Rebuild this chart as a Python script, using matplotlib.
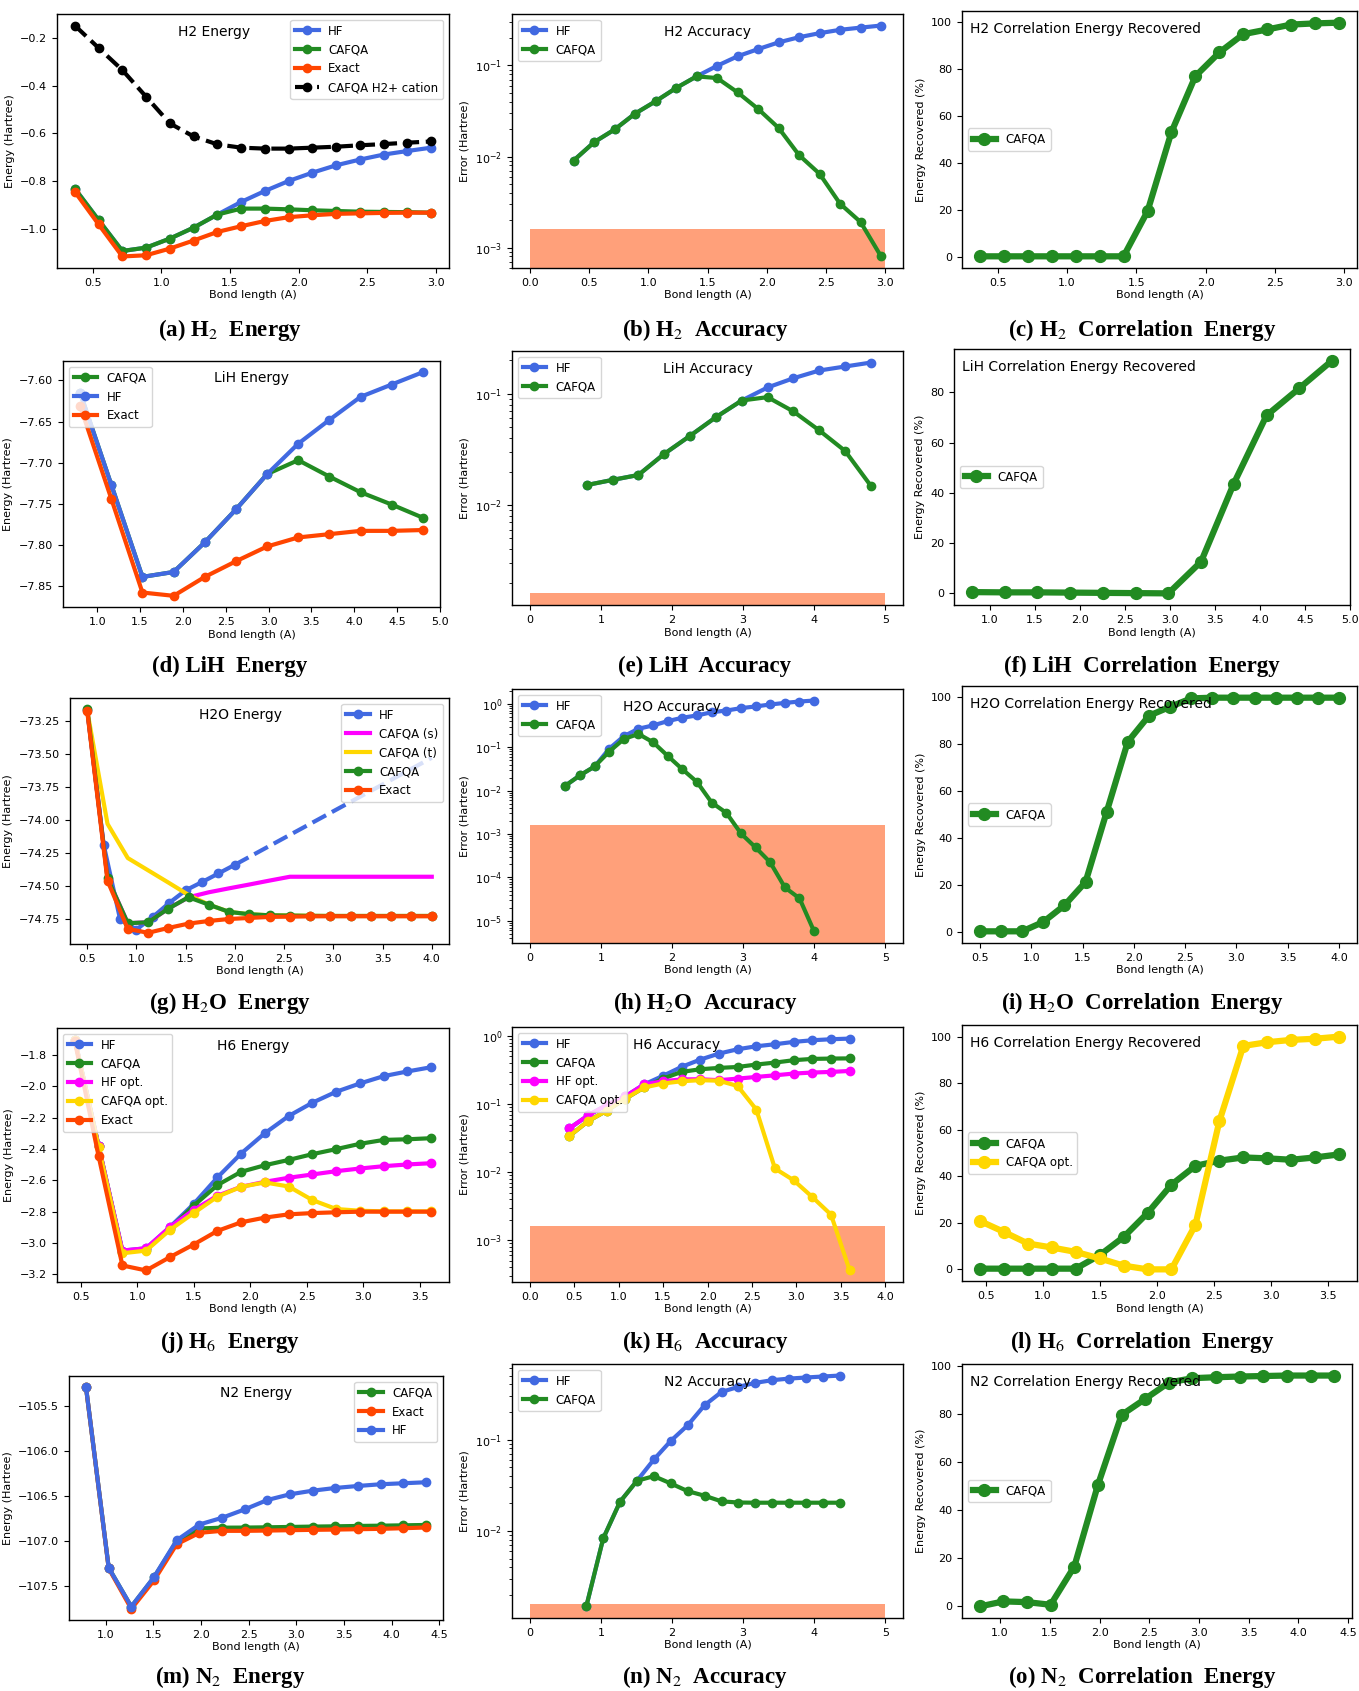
import matplotlib
matplotlib.use('Agg')
import matplotlib.pyplot as plt

plt.rcParams['font.family'] = ['DejaVu Sans']
plt.rcParams['mathtext.fontset'] = 'stix'
plt.rcParams['font.size'] = 8
plt.rcParams['axes.linewidth'] = 1.0

# ---------------- data ----------------
CHEM_ACC = 1.6e-3

# H2
h2_x = [0.37, 0.543, 0.716, 0.889, 1.062, 1.235, 1.408, 1.581, 1.754, 1.927, 2.10, 2.273, 2.446, 2.619, 2.792, 2.965]
h2_hf = [-0.832, -0.964, -1.094, -1.080, -1.042, -0.996, -0.941, -0.888, -0.842, -0.800, -0.765, -0.734, -0.710, -0.689, -0.674, -0.660]
h2_cafqa = [-0.832, -0.964, -1.094, -1.080, -1.042, -0.996, -0.941, -0.916, -0.916, -0.919, -0.923, -0.926, -0.929, -0.930, -0.931, -0.933]
h2_exact = [-0.845, -0.982, -1.117, -1.112, -1.084, -1.050, -1.014, -0.990, -0.968, -0.952, -0.944, -0.938, -0.936, -0.934, -0.933, -0.933]
h2_cation = [-0.147, -0.241, -0.334, -0.446, -0.558, -0.613, -0.646, -0.660, -0.664, -0.664, -0.660, -0.656, -0.650, -0.645, -0.639, -0.634]
h2_err_hf = [0.00904, 0.01436, 0.0198, 0.0296, 0.0404, 0.0565, 0.0758, 0.099, 0.126, 0.151, 0.179, 0.204, 0.226, 0.246, 0.26, 0.274]
h2_err_cafqa = [0.00904, 0.01436, 0.0198, 0.0296, 0.0404, 0.0565, 0.0758, 0.0727, 0.0506, 0.0333, 0.0206, 0.01035, 0.00646, 0.00303, 0.00191, 0.0008]
h2_corr = [0.3, 0.3, 0.3, 0.3, 0.3, 0.3, 0.3, 19.5, 53.3, 77.1, 87.2, 95.0, 97.0, 99.1, 99.6, 99.9]
h2_acc_span = [0.0, 3.0]

# LiH
lih_x = [0.8, 1.164, 1.527, 1.891, 2.255, 2.618, 2.982, 3.345, 3.709, 4.073, 4.436, 4.8]
lih_hf = [-7.615, -7.727, -7.839, -7.833, -7.797, -7.757, -7.714, -7.677, -7.648, -7.620, -7.605, -7.590]
lih_cafqa = [-7.615, -7.727, -7.839, -7.833, -7.797, -7.757, -7.714, -7.697, -7.717, -7.736, -7.751, -7.767]
lih_exact = [-7.631, -7.744, -7.858, -7.862, -7.839, -7.820, -7.802, -7.791, -7.787, -7.783, -7.783, -7.782]
lih_err_hf = [0.0151, 0.0168, 0.0186, 0.0288, 0.0419, 0.0616, 0.087, 0.114, 0.138, 0.162, 0.176, 0.191]
lih_err_cafqa = [0.0151, 0.0168, 0.0186, 0.0288, 0.0419, 0.0616, 0.087, 0.0933, 0.0693, 0.0468, 0.0306, 0.0148]
lih_corr = [0.5, 0.4, 0.4, 0.3, 0.2, 0.1, 0.0, 12.6, 43.7, 70.8, 81.6, 92.6]
lih_acc_span = [0.0, 5.0]

# H2O
h2o_x = [0.5, 0.706, 0.912, 1.118, 1.324, 1.529, 1.735, 1.941, 2.147, 2.353, 2.559, 2.765, 2.971, 3.176, 3.382, 3.588, 3.794, 4.0]
h2o_hf_x = [0.5, 0.667, 0.833, 1.0, 1.167, 1.333, 1.5, 1.667, 1.833, 2.0]
h2o_hf = [-73.167, -74.189, -74.752, -74.833, -74.737, -74.631, -74.535, -74.472, -74.407, -74.341]
h2o_hf_ext_x = [2.0, 4.0]
h2o_hf_ext = [-74.341, -73.528]
h2o_cafqa = [-73.159, -74.442, -74.785, -74.778, -74.674, -74.588, -74.644, -74.699, -74.717, -74.725, -74.727, -74.729, -74.730, -74.730, -74.730, -74.730, -74.730, -74.730]
h2o_cafqa_s = [-73.159, -74.442, -74.785, -74.778, -74.674, -74.588, -74.55, -74.52, -74.491, -74.461, -74.432, -74.432, -74.432, -74.432, -74.432, -74.432, -74.432, -74.432]
h2o_cafqa_t = [-73.17, -74.03, -74.29, -74.383, -74.476, -74.57, -74.644, -74.699, -74.717, -74.725, -74.727, -74.729, -74.730, -74.730, -74.730, -74.730, -74.730, -74.730]
h2o_exact = [-73.174, -74.462, -74.828, -74.858, -74.821, -74.788, -74.768, -74.753, -74.745, -74.737, -74.735, -74.733, -74.732, -74.732, -74.732, -74.732, -74.732, -74.732]
h2o_err_hf = [0.013, 0.0225, 0.036, 0.0925, 0.18, 0.267, 0.318, 0.40, 0.478, 0.54, 0.64, 0.70, 0.795, 0.87, 0.965, 1.05, 1.13, 1.19]
h2o_err_cafqa = [0.013, 0.0225, 0.036, 0.0795, 0.155, 0.202, 0.130, 0.063, 0.031, 0.0158, 0.0053, 0.00308, 0.00103, 0.000492, 0.000223, 0.000059, 0.000033, 0.0000057]
h2o_corr = [0.3, 0.3, 0.3, 4.3, 11.4, 21.3, 51.2, 81.1, 92.2, 96.0, 99.6, 99.9, 99.9, 99.9, 99.9, 99.9, 99.9, 99.9]
h2o_acc_span = [0.0, 5.0]

# H6
h6_x = [0.446, 0.656, 0.867, 1.077, 1.287, 1.498, 1.708, 1.918, 2.128, 2.339, 2.549, 2.759, 2.969, 3.18, 3.39, 3.6]
h6_hf = [-1.70, -2.38, -3.05, -3.035, -2.90, -2.752, -2.582, -2.429, -2.299, -2.189, -2.104, -2.034, -1.981, -1.934, -1.904, -1.877]
h6_cafqa = [-1.70, -2.38, -3.056, -3.043, -2.912, -2.763, -2.631, -2.546, -2.504, -2.47, -2.433, -2.401, -2.367, -2.342, -2.338, -2.331]
h6_hf_opt = [-1.70, -2.38, -3.05, -3.035, -2.90, -2.79, -2.699, -2.642, -2.61, -2.584, -2.563, -2.542, -2.525, -2.51, -2.499, -2.491]
h6_cafqa_opt = [-1.70, -2.385, -3.067, -3.05, -2.918, -2.81, -2.705, -2.642, -2.614, -2.64, -2.727, -2.784, -2.795, -2.799, -2.799, -2.799]
h6_exact = [-1.71, -2.444, -3.145, -3.177, -3.092, -3.011, -2.924, -2.869, -2.839, -2.818, -2.81, -2.805, -2.801, -2.801, -2.801, -2.801]
h6_err_hf = [0.044, 0.068, 0.097, 0.13, 0.194, 0.259, 0.351, 0.449, 0.55, 0.637, 0.705, 0.755, 0.817, 0.864, 0.894, 0.914]
h6_err_cafqa = [0.0339, 0.056, 0.08, 0.12, 0.175, 0.236, 0.296, 0.324, 0.339, 0.35, 0.38, 0.406, 0.44, 0.46, 0.465, 0.468]
h6_err_hf_opt = [0.044, 0.068, 0.097, 0.13, 0.194, 0.216, 0.23, 0.231, 0.224, 0.236, 0.25, 0.264, 0.28, 0.29, 0.296, 0.306]
h6_err_cafqa_opt = [0.0339, 0.056, 0.08, 0.12, 0.175, 0.2, 0.216, 0.224, 0.22, 0.184, 0.083, 0.0113, 0.0076, 0.0043, 0.00237, 0.00036]
h6_corr_cafqa = [0.3, 0.3, 0.3, 0.3, 0.3, 6.1, 13.9, 24.2, 36.4, 44.5, 46.7, 48.1, 47.7, 47.1, 48.1, 49.4]
h6_corr_cafqa_opt = [20.8, 16.1, 11.1, 9.4, 7.5, 4.7, 1.6, 0.0, 0.0, 19.2, 63.7, 96.0, 97.6, 98.6, 99.1, 100.0]
h6_acc_span = [0.0, 4.0]

# N2
n2_x = [0.795, 1.033, 1.270, 1.508, 1.746, 1.984, 2.221, 2.459, 2.697, 2.934, 3.172, 3.410, 3.647, 3.885, 4.123, 4.360]
n2_hf = [-105.296, -107.293, -107.722, -107.396, -106.989, -106.815, -106.741, -106.648, -106.544, -106.481, -106.441, -106.411, -106.389, -106.37, -106.359, -106.348]
n2_cafqa = [-105.296, -107.293, -107.724, -107.40, -107.00, -106.859, -106.850, -106.849, -106.846, -106.842, -106.838, -106.835, -106.831, -106.828, -106.824, -106.820]
n2_exact = [-105.298, -107.301, -107.748, -107.433, -107.033, -106.907, -106.885, -106.885, -106.882, -106.878, -106.874, -106.871, -106.867, -106.863, -106.856, -106.848]
n2_err_hf = [0.0015, 0.0083, 0.0209, 0.0354, 0.0605, 0.0967, 0.143, 0.237, 0.331, 0.376, 0.416, 0.445, 0.463, 0.476, 0.488, 0.50]
n2_err_cafqa = [0.0015, 0.0083, 0.0209, 0.0354, 0.0398, 0.0331, 0.0273, 0.0243, 0.0211, 0.0205, 0.0204, 0.0204, 0.0204, 0.0204, 0.0204, 0.0204]
n2_corr = [0.0, 2.1, 1.8, 0.7, 16.6, 50.6, 79.6, 86.3, 93.1, 94.9, 95.3, 95.6, 95.8, 96.0, 96.0, 96.0]
n2_acc_span = [0.0, 5.0]

captions = ["(a) H$_2$  Energy", "(b) H$_2$  Accuracy", "(c) H$_2$  Correlation  Energy",
            "(d) LiH  Energy", "(e) LiH  Accuracy", "(f) LiH  Correlation  Energy",
            "(g) H$_2$O  Energy", "(h) H$_2$O  Accuracy", "(i) H$_2$O  Correlation  Energy",
            "(j) H$_6$  Energy", "(k) H$_6$  Accuracy", "(l) H$_6$  Correlation  Energy",
            "(m) N$_2$  Energy", "(n) N$_2$  Accuracy", "(o) N$_2$  Correlation  Energy"]

# ---------------- style ----------------
BLUE, GREEN, RED, GOLD, MAG = 'royalblue', 'forestgreen', 'orangered', 'gold', 'magenta'
SALMON = 'lightsalmon'
LW, MS = 3.0, 6
LWC, MSC = 4.5, 8.5

W, H = 1359, 1691
fig = plt.figure(figsize=(W / 100, H / 100), dpi=100)


def add_ax(l, t, r, b):
    return fig.add_axes([l / W, 1 - b / H, (r - l) / W, (b - t) / H])


def finish(ax, ylabel, title, tx, ha, loc):
    ax.set_xlabel('Bond length (A)', fontsize=8, labelpad=2)
    ax.set_ylabel(ylabel, fontsize=8)
    ax.tick_params(labelsize=8)
    ax.text(tx, 0.93, title, transform=ax.transAxes, ha=ha, va='center', fontsize=10)
    ax.legend(loc=loc, fontsize=8.5)


def energy(ax, series, title, tx, loc):
    for x, y, c, lab, kw in series:
        ax.plot(x, y, color=c, lw=LW, label=lab, **kw)
    finish(ax, 'Energy (Hartree)', title, tx, 'center', loc)


def accuracy(ax, series, span, title, tx, loc='upper left'):
    ax.set_yscale('log')
    ax.fill_between(span, 0, CHEM_ACC, color=SALMON, lw=0)
    for x, y, c, lab in series:
        ax.plot(x, y, '-o', color=c, lw=LW, ms=MS, label=lab)
    finish(ax, 'Error (Hartree)', title, tx, 'center', loc)


def corr(ax, series, title):
    for x, y, c, lab in series:
        ax.plot(x, y, '-o', color=c, lw=LWC, ms=MSC, label=lab)
    finish(ax, 'Energy Recovered (%)', title, 0.02, 'left', 'center left')


mk = dict(marker='o', ms=MS)

# Row 1: H2
ax = add_ax(57, 14, 449, 268)
energy(ax, [(h2_x, h2_hf, BLUE, 'HF', mk), (h2_x, h2_cafqa, GREEN, 'CAFQA', mk),
            (h2_x, h2_exact, RED, 'Exact', mk),
            (h2_x, h2_cation, 'black', 'CAFQA H2+ cation', dict(marker='o', ms=MS, ls='--'))],
       'H2 Energy', 0.40, 'upper right')
ax = add_ax(512, 14, 903, 268)
accuracy(ax, [(h2_x, h2_err_hf, BLUE, 'HF'), (h2_x, h2_err_cafqa, GREEN, 'CAFQA')],
         h2_acc_span, 'H2 Accuracy', 0.50)
ax = add_ax(962, 11, 1357, 268)
corr(ax, [(h2_x, h2_corr, GREEN, 'CAFQA')], 'H2 Correlation Energy Recovered')

# Row 2: LiH
ax = add_ax(63, 361, 440, 607)
energy(ax, [(lih_x, lih_cafqa, GREEN, 'CAFQA', mk), (lih_x, lih_hf, BLUE, 'HF', mk),
            (lih_x, lih_exact, RED, 'Exact', mk)], 'LiH Energy', 0.50, 'upper left')
ax = add_ax(512, 351, 903, 605)
accuracy(ax, [(lih_x, lih_err_hf, BLUE, 'HF'), (lih_x, lih_err_cafqa, GREEN, 'CAFQA')],
         lih_acc_span, 'LiH Accuracy', 0.50)
ax = add_ax(954, 349, 1350, 605)
corr(ax, [(lih_x, lih_corr, GREEN, 'CAFQA')], 'LiH Correlation Energy Recovered')

# Row 3: H2O
ax = add_ax(70, 698, 449, 944)
ax.plot(h2o_hf_ext_x, h2o_hf_ext, color=BLUE, lw=LW, ls='--')
energy(ax, [(h2o_hf_x, h2o_hf, BLUE, 'HF', mk), (h2o_x, h2o_cafqa_s, MAG, 'CAFQA (s)', {}),
            (h2o_x, h2o_cafqa_t, GOLD, 'CAFQA (t)', {}), (h2o_x, h2o_cafqa, GREEN, 'CAFQA', mk),
            (h2o_x, h2o_exact, RED, 'Exact', mk)], 'H2O Energy', 0.45, 'upper right')
ax = add_ax(512, 689, 903, 943)
accuracy(ax, [(h2o_x, h2o_err_hf, BLUE, 'HF'), (h2o_x, h2o_err_cafqa, GREEN, 'CAFQA')],
         h2o_acc_span, 'H2O Accuracy', 0.41)
ax = add_ax(962, 686, 1357, 943)
corr(ax, [(h2o_x, h2o_corr, GREEN, 'CAFQA')], 'H2O Correlation Energy Recovered')

# Row 4: H6
ax = add_ax(57, 1028, 449, 1282)
energy(ax, [(h6_x, h6_hf, BLUE, 'HF', mk), (h6_x, h6_cafqa, GREEN, 'CAFQA', mk),
            (h6_x, h6_hf_opt, MAG, 'HF opt.', mk), (h6_x, h6_cafqa_opt, GOLD, 'CAFQA opt.', mk),
            (h6_x, h6_exact, RED, 'Exact', mk)], 'H6 Energy', 0.50, 'upper left')
ax = add_ax(512, 1027, 903, 1282)
accuracy(ax, [(h6_x, h6_err_hf, BLUE, 'HF'), (h6_x, h6_err_cafqa, GREEN, 'CAFQA'),
              (h6_x, h6_err_hf_opt, MAG, 'HF opt.'), (h6_x, h6_err_cafqa_opt, GOLD, 'CAFQA opt.')],
         h6_acc_span, 'H6 Accuracy', 0.42)
ax = add_ax(962, 1025, 1357, 1281)
corr(ax, [(h6_x, h6_corr_cafqa, GREEN, 'CAFQA'), (h6_x, h6_corr_cafqa_opt, GOLD, 'CAFQA opt.')],
     'H6 Correlation Energy Recovered')

# Row 5: N2
ax = add_ax(69, 1376, 443, 1620)
energy(ax, [(n2_x, n2_cafqa, GREEN, 'CAFQA', mk), (n2_x, n2_exact, RED, 'Exact', mk),
            (n2_x, n2_hf, BLUE, 'HF', mk)], 'N2 Energy', 0.50, 'upper right')
ax = add_ax(512, 1364, 903, 1618)
accuracy(ax, [(n2_x, n2_err_hf, BLUE, 'HF'), (n2_x, n2_err_cafqa, GREEN, 'CAFQA')],
         n2_acc_span, 'N2 Accuracy', 0.50)
ax = add_ax(962, 1364, 1352, 1618)
corr(ax, [(n2_x, n2_corr, GREEN, 'CAFQA')], 'N2 Correlation Energy Recovered')

# captions
cap_x = [230, 705, 1142]
cap_y = [330, 666, 1003, 1342, 1677]
for i, cap in enumerate(captions):
    r, c = divmod(i, 3)
    fig.text(cap_x[c] / W, 1 - cap_y[r] / H, cap, ha='center', va='center',
             fontsize=16.5, fontweight='bold', family='Liberation Serif')

fig.savefig('out.png', dpi=100)
